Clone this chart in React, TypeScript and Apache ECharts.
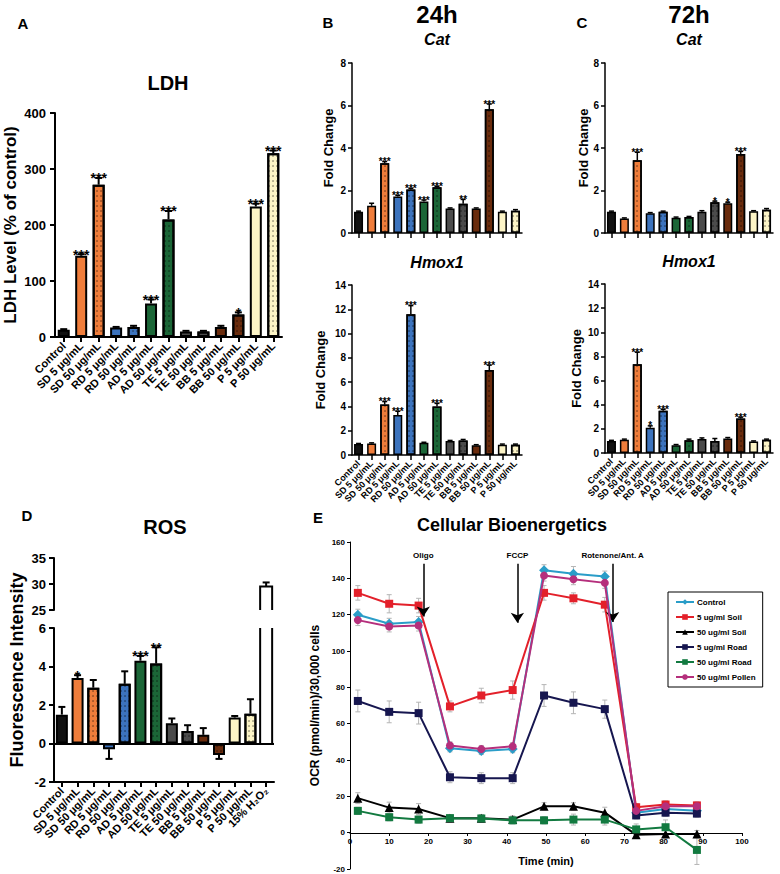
import React, { useEffect, useRef } from 'react';
import * as echarts from 'echarts';

const FF = '"Liberation Sans", Arial, Helvetica, sans-serif';
const FN = '"Liberation Sans Narrow", "Liberation Sans", Arial, sans-serif';

// ---------- categories ----------
const categories = ['Control', 'SD 5 μg/mL', 'SD 50 μg/mL', 'RD 5 μg/mL', 'RD 50 μg/mL', 'AD 5 μg/mL', 'AD 50 μg/mL', 'TE 5 μg/mL', 'TE 50 μg/mL', 'BB 5 μg/mL', 'BB 50 μg/mL', 'P 5 μg/mL', 'P 50 μg/mL'];
const rosCategories = [...categories, '15% H₂O₂'];

// ---------- A: LDH ----------
const ldhValues = [13, 145, 272, 17, 18, 60, 210, 10, 10, 18, 40, 233, 328];
const ldhErrors = [1, 3, 12, 1, 2, 7, 15, 1, 1, 2, 4, 5, 5];
const ldhStars = ['', '***', '***', '', '', '***', '***', '', '', '', '*', '***', '***'];

// ---------- B: 24h ----------
const cat24Values = [1.0, 1.28, 3.28, 1.72, 2.05, 1.48, 2.15, 1.15, 1.38, 1.15, 5.82, 1.0, 1.05];
const cat24Errors = [0.03, 0.12, 0.08, 0.05, 0.05, 0.07, 0.05, 0.03, 0.2, 0.03, 0.25, 0.03, 0.05];
const cat24Stars = ['', '', '***', '***', '***', '***', '***', '', '**', '', '***', '', ''];

const hmox24Values = [0.9, 0.95, 4.15, 3.3, 11.6, 1.0, 4.0, 1.15, 1.2, 0.8, 7.0, 0.85, 0.85];
const hmox24Errors = [0.05, 0.05, 0.25, 0.3, 0.7, 0.05, 0.25, 0.05, 0.08, 0.05, 0.4, 0.05, 0.05];
const hmox24Stars = ['', '', '***', '***', '***', '', '***', '', '', '', '***', '', ''];

// ---------- C: 72h ----------
const cat72Values = [1.0, 0.68, 3.42, 0.93, 1.0, 0.72, 0.75, 1.0, 1.45, 1.4, 3.72, 1.02, 1.1];
const cat72Errors = [0.03, 0.03, 0.38, 0.03, 0.03, 0.03, 0.03, 0.05, 0.05, 0.05, 0.12, 0.03, 0.05];
const cat72Stars = ['', '', '***', '', '', '', '', '', '*', '*', '***', '', ''];

const hmox72Values = [1.0, 1.1, 7.35, 2.1, 3.5, 0.65, 1.05, 1.15, 1.0, 1.2, 2.85, 0.95, 1.1];
const hmox72Errors = [0.05, 0.05, 1.0, 0.15, 0.12, 0.05, 0.1, 0.1, 0.2, 0.08, 0.12, 0.05, 0.05];
const hmox72Stars = ['', '', '***', '*', '***', '', '', '', '', '', '***', '', ''];

// ---------- D: ROS ----------
const rosValues = [1.5, 3.4, 2.9, -0.3, 3.1, 4.3, 4.15, 1.05, 0.65, 0.45, -0.6, 1.35, 1.55, 29.5];
const rosErrors = [0.4, 0.15, 0.4, 0.5, 0.65, 0.25, 0.85, 0.25, 0.3, 0.35, 0.2, 0.08, 0.75, 0.8];
const rosStars = ['', '*', '', '', '', '***', '**', '', '', '', '', '', '', ''];

// ---------- E: Cellular Bioenergetics ----------
const timePoints = [2, 10, 17.5, 25.5, 33.5, 41.5, 49.5, 57, 65, 73, 80.5, 88.5];
const ocrControl = [120, 115, 116, 46.5, 45, 46, 144.5, 142.5, 141, 11, 13, 12];
const ocrSoil5 = [132, 126, 125, 69.5, 75.5, 78.5, 132, 129, 125.5, 14, 15.5, 15];
const ocrSoil50 = [19, 13.8, 13, 8, 8, 7.2, 14.5, 14.5, 11, -1.2, -0.8, -0.8];
const ocrRoad5 = [72.5, 66.5, 65.8, 30.5, 30, 30, 75.5, 71.5, 68, 9.5, 11, 10.5];
const ocrRoad50 = [12, 8.5, 7.2, 8, 7.8, 6.8, 6.8, 7.2, 7.2, 1.8, 3, -9.5];
const ocrPollen = [117, 113.5, 114, 48, 46, 47.5, 141.5, 139.5, 137.5, 12, 14.5, 14.5];
const errControl = [3, 3, 3, 2, 2, 2, 3, 4, 3, 2, 2, 2];
const errSoil5 = [4, 5, 4, 3, 4, 5, 4, 3, 4, 2, 2, 2];
const errSoil50 = [3, 3, 3, 2, 2, 2, 2, 2, 3, 2, 2, 2];
const errRoad5 = [6, 6, 6, 3, 3, 3, 6, 6, 5, 2, 2, 2];
const errRoad50 = [2, 2, 2, 2, 2, 2, 2, 3, 3, 3, 4, 8];
const errPollen = [3, 3, 3, 2, 2, 2, 3, 3, 3, 2, 2, 2];
const eNames = ['Control', '5 ug/ml Soil', '50 ug/ml Soil', '5 ug/ml Road', '50 ug/ml Road', '50 ug/ml Pollen'];
const eValues = [ocrControl, ocrSoil5, ocrSoil50, ocrRoad5, ocrRoad50, ocrPollen];
const eErrors = [errControl, errSoil5, errSoil50, errRoad5, errRoad50, errPollen];

const arrowNames = ['Oligo', 'FCCP', 'Rotenone/Ant. A'];
const arrowTimes = [18.7, 42.7, 67];
const arrowFrom = [148, 148, 148];
const arrowTo = [119, 115.5, 116];

// ---------- styles ----------
const barColors = ['#111111', '#ef7d3b', '#ef7d3b', '#3c73bd', '#3c73bd', '#1b6637', '#1b6637', '#4b4b4b', '#4b4b4b', '#6a2c0d', '#6a2c0d', '#fcf4c6', '#fcf4c6', '#ffffff'];
const barDotted = [false, false, true, false, true, false, true, false, true, false, true, false, true, false];
const eColors = ['#2a9dc8', '#e3202a', '#000000', '#16164f', '#127a40', '#b52f7c'];
const eSymbols = ['diamond', 'rect', 'triangle', 'rect', 'rect', 'circle'];
const eSymbolSizes = [10, 8, 9, 8, 8, 8];

const dotDecal = {
  symbol: 'circle',
  symbolSize: 0.7,
  dashArrayX: [2, 2],
  dashArrayY: [2, 3],
  rotation: 0,
  color: 'rgba(0,0,0,0.65)',
};

function makeBars(idx: number, values: any[], barWidth: number, borderWidth: number) {
  return {
    type: 'bar',
    xAxisIndex: idx,
    yAxisIndex: idx,
    barWidth,
    clip: true,
    silent: true,
    z: 2,
    data: values.map((v, i) => ({
      value: v,
      itemStyle: {
        color: barColors[i],
        borderColor: '#000',
        borderWidth: i === 13 ? 0 : borderWidth,
        decal: barDotted[i] ? dotDecal : undefined,
      },
    })),
  } as any;
}

type ErrOpt = { lw: number; cap: number; fs: number; barW: number; clipMax?: number; clipMin?: number };

function makeErrors(idx: number, values: number[], errors: number[], stars: string[], o: ErrOpt) {
  const data = values
    .map((v, i) => [i, v, errors[i]])
    .filter((d) => o.clipMin === undefined || d[1] > o.clipMin);
  return {
    type: 'custom',
    xAxisIndex: idx,
    yAxisIndex: idx,
    silent: true,
    z: 5,
    data,
    renderItem: (_params: any, api: any) => {
      const i = api.value(0);
      const v = api.value(1);
      const e = api.value(2);
      const st = { stroke: '#000', lineWidth: o.lw, fill: 'none' };
      const kids: any[] = [];
      const hw = o.barW / 2;
      const c = api.coord([i, v]);
      if (o.clipMax !== undefined && v > o.clipMax) {
        const b = api.coord([i, 0]);
        const t = api.coord([i, o.clipMax]);
        kids.push({ type: 'line', shape: { x1: b[0] - hw, y1: b[1], x2: t[0] - hw, y2: t[1] }, style: st });
        kids.push({ type: 'line', shape: { x1: b[0] + hw, y1: b[1], x2: t[0] + hw, y2: t[1] }, style: st });
        return { type: 'group', children: kids };
      }
      if (o.clipMin !== undefined) {
        const b = api.coord([i, o.clipMin]);
        kids.push({
          type: 'polyline',
          shape: { points: [[b[0] - hw, b[1]], [c[0] - hw, c[1]], [c[0] + hw, c[1]], [b[0] + hw, b[1]]] },
          style: st,
        });
      }
      const dir = v < 0 ? -1 : 1;
      const tip = api.coord([i, v + dir * e]);
      if (e > 0) {
        kids.push({ type: 'line', shape: { x1: c[0], y1: c[1], x2: tip[0], y2: tip[1] }, style: st });
        kids.push({ type: 'line', shape: { x1: tip[0] - o.cap / 2, y1: tip[1], x2: tip[0] + o.cap / 2, y2: tip[1] }, style: st });
      }
      const s = stars[i];
      if (s) {
        kids.push({
          type: 'text',
          x: tip[0],
          y: tip[1] - 1 + o.fs * 0.6,
          style: {
            text: s, fill: '#000', font: `bold ${o.fs}px ${FF}`,
            align: 'center', verticalAlign: 'bottom', textAlign: 'center', textVerticalAlign: 'bottom',
          },
        });
      }
      return { type: 'group', children: kids };
    },
  } as any;
}

function catAxis(gridIndex: number, data: string[], showLabels: boolean, fontSize: number, lw: number) {
  return {
    type: 'category',
    gridIndex,
    data,
    axisLine: { show: true, onZero: false, lineStyle: { color: '#000', width: lw } },
    axisTick: { show: true, alignWithLabel: true, length: 5, lineStyle: { color: '#000', width: lw } },
    axisLabel: { show: showLabels, rotate: 45, interval: 0, fontSize, fontWeight: 'bold', color: '#000', fontFamily: FF, margin: 7 },
    splitLine: { show: false },
  } as any;
}

function valAxis(gridIndex: number, min: number, max: number, interval: number, o: any) {
  return {
    type: 'value',
    gridIndex,
    min,
    max,
    interval,
    name: o.name || '',
    nameLocation: 'middle',
    nameGap: o.nameGap || 20,
    nameTextStyle: { fontSize: o.nameSize || 12, fontWeight: 'bold', color: '#000', fontFamily: FF },
    axisLine: { show: true, onZero: false, lineStyle: { color: '#000', width: o.lw } },
    axisTick: { show: true, length: o.tick || 5, lineStyle: { color: '#000', width: o.lw } },
    axisLabel: { fontSize: o.labelSize, fontWeight: 'bold', color: '#000', fontFamily: FF, margin: o.margin || 8 },
    splitLine: { show: false },
  } as any;
}

function txt(text: string, x: number, y: number, size: number, italic = false, rotation = 0) {
  return {
    type: 'text',
    x,
    y,
    rotation,
    silent: true,
    style: {
      text,
      font: `${italic ? 'italic ' : ''}bold ${size}px ${FF}`,
      fill: '#000',
      align: 'center', verticalAlign: 'middle', textAlign: 'center', textVerticalAlign: 'middle',
    },
  } as any;
}

function buildOption() {
  const grids = [
    { left: 55, top: 113, width: 227, height: 224 },
    { left: 352, top: 63, width: 170, height: 170 },
    { left: 352, top: 285, width: 170, height: 170 },
    { left: 605, top: 63, width: 168, height: 170 },
    { left: 605, top: 284, width: 168, height: 169 },
    { left: 54, top: 558, width: 220, height: 52 },
    { left: 54, top: 628, width: 220, height: 154 },
    { left: 350, top: 542, width: 392, height: 327 },
    { left: 350, top: 542, width: 392, height: 291 },
  ].map((g) => ({ ...g, containLabel: false, outerBoundsMode: 'none' }));

  const xAxis = [
    catAxis(0, categories, true, 11, 2),
    catAxis(1, categories, false, 9, 1.5),
    catAxis(2, categories, true, 9, 1.5),
    catAxis(3, categories, false, 9, 1.5),
    catAxis(4, categories, true, 9, 1.5),
    { ...catAxis(5, rosCategories, false, 11, 2), show: false },
    catAxis(6, rosCategories, true, 11, 2),
    { type: 'value', gridIndex: 7, min: 0, max: 100, interval: 10, show: false },
    {
      type: 'value', gridIndex: 8, min: 0, max: 100, interval: 10,
      name: 'Time (min)', nameLocation: 'middle', nameGap: 22,
      nameTextStyle: { fontSize: 11, fontWeight: 'bold', color: '#000', fontFamily: FF },
      axisLine: { show: true, onZero: false, lineStyle: { color: '#000', width: 1 } },
      axisTick: { show: true, length: 3, lineStyle: { color: '#000', width: 1 } },
      axisLabel: { fontSize: 8, fontWeight: 'bold', color: '#000', fontFamily: FF, margin: 4 },
      splitLine: { show: false },
    },
  ];

  const yAxis = [
    valAxis(0, 0, 400, 100, { name: 'LDH Level (% of control)', nameSize: 17, nameGap: 36, labelSize: 13, lw: 2, margin: 9 }),
    valAxis(1, 0, 8, 2, { name: 'Fold Change', nameSize: 13, nameGap: 17, labelSize: 10, lw: 1.5, tick: 4, margin: 6 }),
    valAxis(2, 0, 14, 2, { name: 'Fold Change', nameSize: 13, nameGap: 25, labelSize: 10, lw: 1.5, tick: 4, margin: 6 }),
    valAxis(3, 0, 8, 2, { name: 'Fold Change', nameSize: 13, nameGap: 15, labelSize: 10, lw: 1.5, tick: 4, margin: 6 }),
    valAxis(4, 0, 14, 2, { name: 'Fold Change', nameSize: 13, nameGap: 22, labelSize: 10, lw: 1.5, tick: 4, margin: 6 }),
    valAxis(5, 25, 35, 5, { labelSize: 13, lw: 2, margin: 8 }),
    valAxis(6, -2, 6, 2, { labelSize: 13, lw: 2, margin: 8 }),
    valAxis(7, -20, 160, 20, { name: 'OCR (pmol/min)/30,000 cells', nameSize: 12, nameGap: 24, labelSize: 8, lw: 1, tick: 3, margin: 5 }),
    { type: 'value', gridIndex: 8, min: 0, max: 160, interval: 20, show: false },
  ];

  const series: any[] = [];
  // A
  series.push(makeBars(0, ldhValues, 12, 2));
  series.push(makeErrors(0, ldhValues, ldhErrors, ldhStars, { lw: 2, cap: 7, fs: 14, barW: 12 }));
  // B
  series.push(makeBars(1, cat24Values, 9, 1.5));
  series.push(makeErrors(1, cat24Values, cat24Errors, cat24Stars, { lw: 1.5, cap: 5, fs: 10, barW: 9 }));
  series.push(makeBars(2, hmox24Values, 9, 1.5));
  series.push(makeErrors(2, hmox24Values, hmox24Errors, hmox24Stars, { lw: 1.5, cap: 5, fs: 10, barW: 9 }));
  // C
  series.push(makeBars(3, cat72Values, 9, 1.5));
  series.push(makeErrors(3, cat72Values, cat72Errors, cat72Stars, { lw: 1.5, cap: 5, fs: 10, barW: 9 }));
  series.push(makeBars(4, hmox72Values, 9, 1.5));
  series.push(makeErrors(4, hmox72Values, hmox72Errors, hmox72Stars, { lw: 1.5, cap: 5, fs: 10, barW: 9 }));
  // D upper (break segment)
  series.push(makeBars(5, rosValues.map((v) => (v > 25 ? v : '-')), 12, 2));
  series.push(makeErrors(5, rosValues, rosErrors, rosStars, { lw: 2, cap: 7, fs: 14, barW: 12, clipMin: 25 }));
  // D lower
  const rosLower = makeBars(6, rosValues, 12, 2);
  rosLower.markLine = {
    silent: true,
    symbol: 'none',
    label: { show: false },
    lineStyle: { color: '#000', width: 2, type: 'solid' },
    data: [{ yAxis: 0 }],
  };
  series.push(rosLower);
  series.push(makeErrors(6, rosValues, rosErrors, rosStars, { lw: 2, cap: 7, fs: 14, barW: 12, clipMax: 6 }));

  // E error bars
  const eErrData: number[][] = [];
  eValues.forEach((vals, k) => {
    timePoints.forEach((t, i) => eErrData.push([t, vals[i], eErrors[k][i]]));
  });
  series.push({
    type: 'custom',
    xAxisIndex: 7,
    yAxisIndex: 7,
    silent: true,
    z: 1,
    data: eErrData,
    renderItem: (_p: any, api: any) => {
      const t = api.value(0);
      const v = api.value(1);
      const e = api.value(2);
      const a = api.coord([t, v - e]);
      const b = api.coord([t, v + e]);
      const st = { stroke: '#b5b5b5', lineWidth: 1 };
      return {
        type: 'group',
        children: [
          { type: 'line', shape: { x1: a[0], y1: a[1], x2: b[0], y2: b[1] }, style: st },
          { type: 'line', shape: { x1: a[0] - 2.5, y1: a[1], x2: a[0] + 2.5, y2: a[1] }, style: st },
          { type: 'line', shape: { x1: b[0] - 2.5, y1: b[1], x2: b[0] + 2.5, y2: b[1] }, style: st },
        ],
      };
    },
  });

  eNames.forEach((name, k) => {
    const s: any = {
      type: 'line',
      name,
      xAxisIndex: 7,
      yAxisIndex: 7,
      data: timePoints.map((t, i) => [t, eValues[k][i]]),
      symbol: eSymbols[k],
      symbolSize: eSymbolSizes[k],
      showAllSymbol: true,
      lineStyle: { color: eColors[k], width: 2 },
      itemStyle: { color: eColors[k] },
      z: 3 + k,
      silent: true,
    };
    if (k === 0) {
      s.markLine = {
        silent: true,
        symbol: ['none', 'arrow'],
        symbolSize: 10,
        lineStyle: { color: '#000', width: 1.5, type: 'solid' },
        itemStyle: { color: '#000' },
        label: { show: true, position: 'start', formatter: '{b}', color: '#000', fontSize: 8, fontWeight: 'bold', fontFamily: FN, distance: 4 },
        data: arrowNames.map((n, j) => [
          { name: n, coord: [arrowTimes[j], arrowFrom[j]] },
          { coord: [arrowTimes[j], arrowTo[j]] },
        ]),
      };
    }
    series.push(s);
  });

  return {
    animation: false,
    backgroundColor: '#ffffff',
    textStyle: { fontFamily: FF },
    grid: grids,
    xAxis,
    yAxis,
    legend: {
      data: eNames,
      orient: 'vertical',
      left: 668,
      top: 592,
      padding: [6, 7, 6, 7],
      itemGap: 7,
      itemWidth: 18,
      itemHeight: 7,
      selectedMode: false,
      borderColor: '#000',
      borderWidth: 1,
      backgroundColor: '#fff',
      textStyle: { fontSize: 8, fontWeight: 'bold', color: '#000', fontFamily: FN, padding: [0, 0, 0, -2] },
    },
    graphic: [
      txt('A', 23, 23, 15),
      txt('LDH', 168, 83, 20),
      txt('B', 328, 22, 15),
      txt('24h', 437, 14, 24),
      txt('Cat', 437, 39, 16, true),
      txt('Hmox1', 437, 262, 16, true),
      txt('C', 582, 22, 15),
      txt('72h', 689, 14, 24),
      txt('Cat', 689, 39, 16, true),
      txt('Hmox1', 689, 261, 16, true),
      txt('D', 27, 515, 15),
      txt('ROS', 165, 527, 20),
      txt('Fluorescence Intensity', 17, 670, 18, false, Math.PI / 2),
      txt('E', 318, 517, 15),
      txt('Cellular Bioenergetics', 512, 525, 18),
    ],
    series,
  };
}

export default function App() {
  const ref = useRef<HTMLDivElement>(null);
  useEffect(() => {
    if (!ref.current) return;
    const chart = echarts.init(ref.current, null, { renderer: 'svg' });
    chart.setOption(buildOption() as any);
    return () => chart.dispose();
  }, []);
  return (
    <div
      ref={ref}
      style={{ position: 'absolute', left: 0, top: 0, width: 780, height: 874, background: '#fff' }}
    />
  );
}
